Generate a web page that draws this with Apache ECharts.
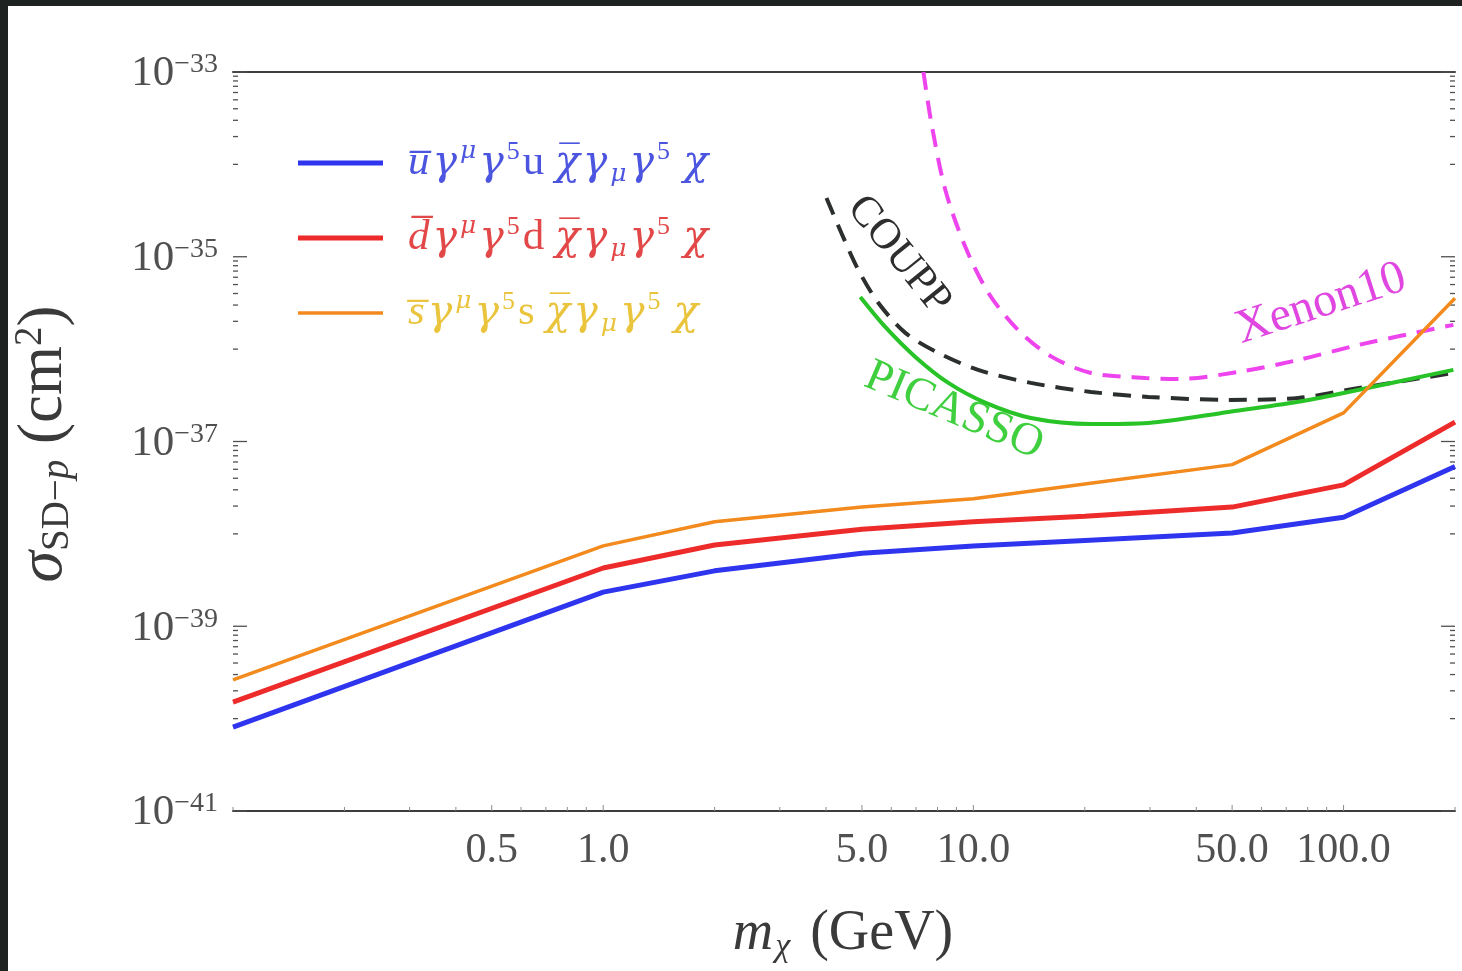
<!DOCTYPE html>
<html>
<head>
<meta charset="utf-8">
<script src="https://cdn.jsdelivr.net/npm/echarts@6/dist/echarts.min.js"></script>
<style>
  html, body { margin: 0; padding: 0; background: #fff; }
  #chart { width: 1462px; height: 971px; }
</style>
</head>
<body>
<div id="chart"></div>
<script>
// Dark-matter mass grid (GeV) for the operator predictions
const massGrid = [0.1, 1, 2, 5, 10, 20, 50, 100, 200];
// Spin-dependent proton cross sections (cm^2) for each quark operator
const sigmaU = [8.1e-41, 2.34e-39, 3.98e-39, 6.17e-39, 7.41e-39, 8.5e-39, 1.02e-38, 1.51e-38, 5.37e-38];
const sigmaD = [1.51e-40, 4.27e-39, 7.59e-39, 1.12e-38, 1.35e-38, 1.55e-38, 1.95e-38, 3.39e-38, 1.62e-37];
const sigmaS = [2.63e-40, 7.41e-39, 1.35e-38, 1.95e-38, 2.40e-38, 3.47e-38, 5.62e-38, 2.04e-37, 3.55e-36];

// Experimental exclusion limits
const xenonMass = [7.33, 7.70, 8.40, 9.51, 10.98, 13.2, 16.3, 20.8, 29.2, 35.8, 52.0, 75.5, 109.8, 198];
const xenonSigma = [1.0e-33, 2.81e-34, 5.28e-35, 1.28e-35, 4.06e-36, 1.61e-36, 8.24e-37, 5.52e-37, 4.88e-37, 4.75e-37, 5.66e-37, 7.64e-37, 1.11e-36, 1.83e-36];
const couppMass = [4.01, 4.40, 4.89, 5.54, 6.55, 8.04, 10.3, 14.3, 20.8, 29.7, 48.9, 75.5, 103, 198];
const couppSigma = [4.33e-35, 1.81e-35, 7.19e-36, 3.16e-36, 1.50e-36, 9.1e-37, 5.96e-37, 4.31e-37, 3.44e-37, 3.04e-37, 2.82e-37, 2.96e-37, 3.63e-37, 5.52e-37];
const picassoMass = [4.95, 5.78, 6.97, 8.56, 10.8, 14.3, 20.8, 29.7, 48.9, 75.5, 103, 198];
const picassoSigma = [3.67e-36, 1.74e-36, 8.24e-37, 4.31e-37, 2.62e-37, 1.80e-37, 1.55e-37, 1.59e-37, 2.09e-37, 2.69e-37, 3.44e-37, 5.96e-37];

// Axis ticks
const xTickValues = [0.5, 1, 5, 10, 50, 100];
const xTickLabels = ['0.5', '1.0', '5.0', '10.0', '50.0', '100.0'];
const yTickExponents = [-41, -39, -37, -35, -33];

const X_MIN = 0.1, X_MAX = 200, Y_MIN = -41, Y_MAX = -33;
const SERIF = '"Liberation Serif", "DejaVu Serif", serif';
const DV_SERIF = '"DejaVu Serif", serif';
const TICK_COLOR = '#505050';

// cross sections are plotted by their decimal exponent
const toPairs = (xs, ys) => xs.map((x, i) => [x, Math.log10(ys[i])]);

// tick marks: kind 0 = x minor, 1 = x major, 2 = y minor, 3 = y major
const tickData = [];
for (let n = -1; n <= 1; n++) {
  for (let k = 1; k <= 9; k++) {
    const v = +(k * Math.pow(10, n)).toPrecision(6);
    tickData.push([v, Y_MIN, xTickValues.includes(v) ? 1 : 0]);
  }
}
tickData.push([100, Y_MIN, 1], [200, Y_MIN, 0]);
yTickExponents.forEach(e => {
  tickData.push([X_MIN, e, 3]);
  if (e > Y_MIN) {
    for (let k = 1; k <= 9; k++) tickData.push([X_MIN, e - 1 + Math.log10(k), 2]);
  }
});

function renderTick(params, api) {
  const kind = api.value(2);
  if (kind <= 1) {
    const p = api.coord([api.value(0), Y_MIN]);
    const len = kind === 1 ? 6 : 4;
    return {
      type: 'line', shape: { x1: p[0], y1: p[1], x2: p[0], y2: p[1] - len },
      style: { stroke: '#8a8a8a', lineWidth: 1 }
    };
  }
  const style = { stroke: TICK_COLOR, lineWidth: 1.3 };
  const len = kind === 3 ? 14 : 5;
  const l = api.coord([X_MIN, api.value(1)]);
  const r = api.coord([X_MAX, api.value(1)]);
  return {
    type: 'group',
    children: [
      { type: 'line', shape: { x1: l[0], y1: l[1], x2: l[0] + len, y2: l[1] }, style },
      { type: 'line', shape: { x1: r[0], y1: r[1], x2: r[0] - len, y2: r[1] }, style }
    ]
  };
}

function renderXLabel(params, api) {
  const p = api.coord([api.value(0), Y_MIN]);
  return {
    type: 'text', x: p[0], y: p[1] + 40,
    style: {
      text: xTickLabels[params.dataIndex], fill: TICK_COLOR,
      font: '42px ' + SERIF, align: 'center', verticalAlign: 'middle'
    }
  };
}

function renderYLabel(params, api) {
  const e = api.value(1);
  const p = api.coord([X_MIN, e]);
  return {
    type: 'text', x: p[0] - 15, y: p[1] + 2,
    style: {
      text: '{b|10}{s|\u2212' + (-e) + '}', fill: TICK_COLOR,
      align: 'right', verticalAlign: 'middle',
      rich: {
        b: { fontSize: 43, fontFamily: SERIF, fill: TICK_COLOR, lineHeight: 46 },
        s: { fontSize: 28, fontFamily: SERIF, fill: TICK_COLOR, verticalAlign: 'top', lineHeight: 28 }
      }
    }
  };
}

// legend rows: operator label built from italic / upright / sup / sub pieces
const legendRows = [
  { color: '#2f35ee', text: '#4c55e0', width: 5,
    label: '{i|u\u0305}{g|\u03b3}{sp|\u03bc}{g|\u03b3}{sn|5}{r|u }{c|\u03c7\u0305}{g|\u03b3}{sb|\u03bc}{g|\u03b3}{sn|5}{c| \u03c7}' },
  { color: '#ee2b2b', text: '#e24848', width: 5,
    label: '{i|d\u0305}{g|\u03b3}{sp|\u03bc}{g|\u03b3}{sn|5}{r|d }{c|\u03c7\u0305}{g|\u03b3}{sb|\u03bc}{g|\u03b3}{sn|5}{c| \u03c7}' },
  { color: '#f28a1e', text: '#e9c43c', width: 3.5,
    label: '{i|s\u0305}{g|\u03b3}{sp|\u03bc}{g|\u03b3}{sn|5}{r|s }{c|\u03c7\u0305}{g|\u03b3}{sb|\u03bc}{g|\u03b3}{sn|5}{c| \u03c7}' }
];

function legendRich(color) {
  const base = { fill: color };
  return {
    i: Object.assign({ fontSize: 43, fontStyle: 'italic', fontFamily: SERIF, lineHeight: 48 }, base),
    g: Object.assign({ fontSize: 41, fontStyle: 'italic', fontFamily: DV_SERIF, lineHeight: 48, padding: [0, 3, 0, 3] }, base),
    c: Object.assign({ fontSize: 41, fontStyle: 'italic', fontFamily: DV_SERIF, lineHeight: 48 }, base),
    r: Object.assign({ fontSize: 43, fontFamily: SERIF, lineHeight: 48, padding: [0, 0, 0, 3] }, base),
    sp: Object.assign({ fontSize: 25, fontStyle: 'italic', fontFamily: DV_SERIF, verticalAlign: 'top', lineHeight: 25 }, base),
    sn: Object.assign({ fontSize: 26, fontFamily: SERIF, verticalAlign: 'top', lineHeight: 25 }, base),
    sb: Object.assign({ fontSize: 25, fontStyle: 'italic', fontFamily: DV_SERIF, verticalAlign: 'bottom', lineHeight: 25 }, base)
  };
}

const legendGraphics = [];
legendRows.forEach((row, i) => {
  const y = 163 + i * 75;
  legendGraphics.push({
    type: 'line', shape: { x1: 298, y1: y, x2: 383, y2: y },
    style: { stroke: row.color, lineWidth: row.width }
  });
  legendGraphics.push({
    type: 'text', x: 408, y: y,
    style: { text: row.label, fill: row.text, align: 'left', verticalAlign: 'middle', rich: legendRich(row.text) }
  });
});

const chart = echarts.init(document.getElementById('chart'), null, { renderer: 'canvas' });

chart.setOption({
  animation: false,
  backgroundColor: '#ffffff',
  grid: { left: 233, right: 7, top: 72, bottom: 160 },
  xAxis: [
    {
      type: 'log', logBase: 10, min: X_MIN, max: X_MAX, position: 'bottom',
      axisLine: { show: true, lineStyle: { color: '#3c3c3c', width: 2 } },
      axisTick: { show: false }, axisLabel: { show: false }, splitLine: { show: false }
    },
    {
      type: 'log', logBase: 10, min: X_MIN, max: X_MAX, position: 'top',
      axisLine: { show: true, lineStyle: { color: '#3c3c3c', width: 2 } },
      axisTick: { show: false }, axisLabel: { show: false }, splitLine: { show: false }
    }
  ],
  yAxis: {
    type: 'value', min: Y_MIN, max: Y_MAX, interval: 2,
    axisLine: { show: false }, axisTick: { show: false }, axisLabel: { show: false },
    splitLine: { show: false }
  },
  graphic: [
    { type: 'rect', shape: { x: 0, y: 0, width: 1462, height: 6 }, style: { fill: '#1e2220' } },
    { type: 'rect', shape: { x: 0, y: 0, width: 8, height: 971 }, style: { fill: '#1e2220' } },
    ...legendGraphics,
    {
      type: 'text', x: 843, y: 934,
      style: {
        text: '{i|m}{sb|\u03c7}{r| (GeV)}', fill: '#3a3a3a', align: 'center', verticalAlign: 'middle',
        rich: {
          i: { fontSize: 56, fontStyle: 'italic', fontFamily: SERIF, fill: '#3a3a3a', lineHeight: 60 },
          sb: { fontSize: 34, fontStyle: 'italic', fontFamily: SERIF, fill: '#3a3a3a', verticalAlign: 'bottom', lineHeight: 34, padding: [0, 6, 0, 2] },
          r: { fontSize: 56, fontFamily: SERIF, fill: '#3a3a3a', lineHeight: 60 }
        }
      }
    },
    {
      type: 'text', x: 44, y: 444, rotation: Math.PI / 2,
      style: {
        text: '{i|\u03c3}{sb|SD\u2212}{sbi|p}{r| (cm}{sp|2}{r|)}', fill: '#3a3a3a', align: 'center', verticalAlign: 'middle',
        rich: {
          i: { fontSize: 64, fontStyle: 'italic', fontFamily: SERIF, fill: '#3a3a3a', lineHeight: 66 },
          sb: { fontSize: 39, fontFamily: SERIF, fill: '#3a3a3a', verticalAlign: 'bottom', lineHeight: 38 },
          sbi: { fontSize: 39, fontStyle: 'italic', fontFamily: SERIF, fill: '#3a3a3a', verticalAlign: 'bottom', lineHeight: 38 },
          r: { fontSize: 63, fontFamily: SERIF, fill: '#3a3a3a', lineHeight: 66 },
          sp: { fontSize: 39, fontFamily: SERIF, fill: '#3a3a3a', verticalAlign: 'top', lineHeight: 38 }
        }
      }
    },
    {
      type: 'text', x: 899, y: 255, rotation: -51 * Math.PI / 180,
      style: { text: 'COUPP', fill: '#2e2e2e', font: '43px ' + SERIF, align: 'center', verticalAlign: 'middle' }
    },
    {
      type: 'text', x: 954, y: 411, rotation: -23 * Math.PI / 180,
      style: { text: 'PICASSO', fill: '#3fcf3f', font: '46px ' + SERIF, align: 'center', verticalAlign: 'middle' }
    },
    {
      type: 'text', x: 1321, y: 304, rotation: 18 * Math.PI / 180,
      style: { text: 'Xenon10', fill: '#e046e0', font: '48px ' + SERIF, align: 'center', verticalAlign: 'middle' }
    }
  ],
  series: [
    {
      name: 'Xenon10', type: 'line', data: toPairs(xenonMass, xenonSigma), symbol: 'none', smooth: 0.3,
      lineStyle: { color: '#ee44ee', width: 4, type: [18, 11] }, z: 3
    },
    {
      name: 'COUPP', type: 'line', data: toPairs(couppMass, couppSigma), symbol: 'none', smooth: 0.3,
      lineStyle: { color: '#2b2f2d', width: 4, type: [18, 11] }, z: 3
    },
    {
      name: 'PICASSO', type: 'line', data: toPairs(picassoMass, picassoSigma), symbol: 'none', smooth: 0.3,
      lineStyle: { color: '#27c327', width: 4 }, z: 4
    },
    {
      name: 'u', type: 'line', data: toPairs(massGrid, sigmaU), symbol: 'none',
      lineStyle: { color: '#2f35ee', width: 5 }, z: 5
    },
    {
      name: 'd', type: 'line', data: toPairs(massGrid, sigmaD), symbol: 'none',
      lineStyle: { color: '#ee2b2b', width: 5 }, z: 5
    },
    {
      name: 's', type: 'line', data: toPairs(massGrid, sigmaS), symbol: 'none',
      lineStyle: { color: '#f28a1e', width: 3.5 }, z: 6
    },
    {
      name: 'ticks', type: 'custom', data: tickData, renderItem: renderTick, silent: true, z: 2
    },
    {
      name: 'xLabels', type: 'custom', data: xTickValues.map(v => [v, Y_MIN]), renderItem: renderXLabel, silent: true
    },
    {
      name: 'yLabels', type: 'custom', data: yTickExponents.map(e => [X_MIN, e]), renderItem: renderYLabel, silent: true
    }
  ]
});
</script>
</body>
</html>
